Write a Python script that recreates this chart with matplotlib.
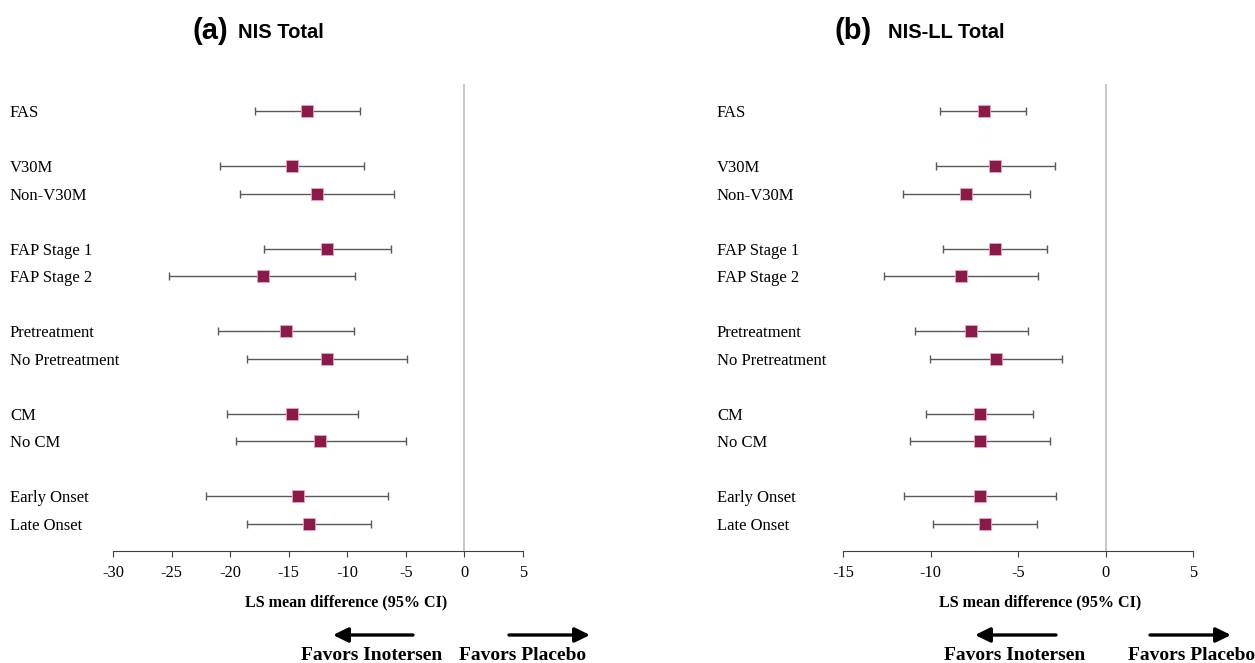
import matplotlib
matplotlib.use("Agg")
import numpy as np
from matplotlib import pyplot as plt
from matplotlib.patches import FancyArrowPatch
from matplotlib.transforms import blended_transform_factory

labels = [
    "FAS",
    "V30M", "Non-V30M",
    "FAP Stage 1", "FAP Stage 2",
    "Pretreatment", "No Pretreatment",
    "CM", "No CM",
    "Early Onset", "Late Onset",
]
# row slots, blank row between subgroups
rows = [0, 2, 3, 5, 6, 8, 9, 11, 12, 14, 15]

# NIS total: LS mean difference with 95% CI
nis_mean = [-13.4, -14.75, -12.6, -11.7, -17.2, -15.2, -11.7, -14.7, -12.3, -14.25, -13.3]
nis_low = [-17.9, -20.9, -19.2, -17.1, -25.2, -21.05, -18.6, -20.3, -19.5, -22.05, -18.6]
nis_high = [-8.95, -8.6, -6.0, -6.3, -9.3, -9.4, -4.9, -9.1, -5.0, -6.5, -7.95]

# NIS-LL total
nisll_mean = [-6.97, -6.29, -7.96, -6.32, -8.24, -7.67, -6.25, -7.18, -7.16, -7.16, -6.91]
nisll_low = [-9.44, -9.68, -11.6, -9.28, -12.64, -10.88, -10.02, -10.25, -11.16, -11.5, -9.87]
nisll_high = [-4.52, -2.89, -4.31, -3.34, -3.87, -4.44, -2.47, -4.12, -3.17, -2.83, -3.93]

W, H = 1255, 663
MARKER = "#8b1a4a"
SERIF = "Liberation Serif"
SANS = "Liberation Sans"

fig = plt.figure(figsize=(W / 100, H / 100), dpi=100)


def px(x, y):
    return x / W, 1 - y / H


def forest(ax, mean, low, high, xlim, xticks, label_x):
    mean = np.array(mean)
    err = [mean - np.array(low), np.array(high) - mean]
    ax.axvline(0, color="#bfbfbf", lw=1.2, zorder=0)
    ax.errorbar(mean, rows, xerr=err, fmt="none", ecolor="#595959",
                elinewidth=1.0, capsize=3, capthick=1.0, zorder=2)
    ax.plot(mean, rows, "s", color=MARKER, markersize=8,
            markeredgecolor="#e8a6bf", markeredgewidth=0.6, zorder=3)
    ax.set_xlim(*xlim)
    ax.set_ylim(16, -1)
    ax.set_xticks(xticks)
    ax.set_xticklabels([f"{t}" for t in xticks], fontfamily=SERIF, fontsize=11.8)
    ax.set_yticks([])
    for s in ["top", "right", "left"]:
        ax.spines[s].set_visible(False)
    ax.spines["bottom"].set_color("#404040")
    ax.tick_params(axis="x", direction="out", length=4, color="#404040", pad=6)
    tr = blended_transform_factory(fig.transFigure, ax.transData)
    for lab, r in zip(labels, rows):
        ax.text(label_x / W, r, lab, transform=tr, ha="left", va="center_baseline",
                fontfamily=SERIF, fontsize=12)


ax1 = fig.add_axes([113 / W, 1 - 551 / H, 410 / W, 467 / H])
forest(ax1, nis_mean, nis_low, nis_high, (-30, 5), list(range(-30, 6, 5)), 10)

ax2 = fig.add_axes([843 / W, 1 - 551 / H, 350 / W, 467 / H])
forest(ax2, nisll_mean, nisll_low, nisll_high, (-15, 5), list(range(-15, 6, 5)), 717)

# panel titles
fig.text(*px(192, 31), "(a)", fontfamily=SANS, fontweight="bold", fontsize=21,
         ha="left", va="center")
fig.text(*px(238, 32), "NIS Total", fontfamily=SANS, fontweight="bold",
         fontsize=14.5, ha="left", va="center")
fig.text(*px(835, 31), "(b)", fontfamily=SANS, fontweight="bold", fontsize=21,
         ha="left", va="center")
fig.text(*px(888, 32), "NIS-LL Total", fontfamily=SANS, fontweight="bold",
         fontsize=14.5, ha="left", va="center")

# axis captions
for cx in (346, 1040):
    fig.text(*px(cx, 602), "LS mean difference (95% CI)", fontfamily=SERIF,
             fontweight="bold", fontsize=11.6, ha="center", va="center")

# direction arrows and captions
for (l0, l1, r0, r1, inot_x, plac_x) in [(413, 333, 509, 590, 372, 523),
                                         (1056, 975, 1150, 1231, 1015, 1192)]:
    for a, b in [(l0, l1), (r0, r1)]:
        fig.patches.append(FancyArrowPatch(
            px(a, 635), px(b, 635), transform=fig.transFigure,
            arrowstyle="-|>,head_length=0.45,head_width=0.22", mutation_scale=20,
            color="black", lw=2.4, shrinkA=0, shrinkB=0))
    fig.text(*px(inot_x, 656), "Favors Inotersen", fontfamily=SERIF,
             fontweight="bold", fontsize=14, ha="center", va="center")
    fig.text(*px(plac_x, 656), "Favors Placebo", fontfamily=SERIF,
             fontweight="bold", fontsize=14, ha="center", va="center")

fig.savefig("out.png", dpi=100, facecolor="white")
